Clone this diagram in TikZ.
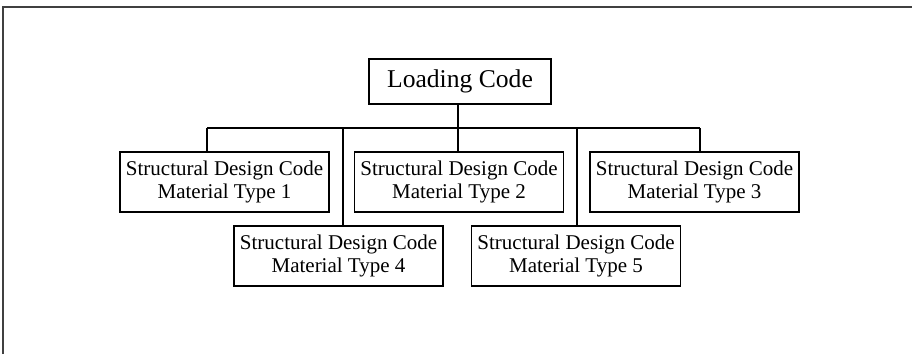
\documentclass[tikz,border=0pt]{standalone}
\usepackage{fontspec}
\setmainfont{Liberation Serif}
\begin{document}
\begin{tikzpicture}[x=1pt, y=-1pt, line width=1.3pt, main/.style = {draw, rectangle, minimum width=209pt, minimum height=60pt, inner sep=0pt, align=center, font=\fontsize{21}{23.5}\selectfont}]

		\useasboundingbox (0,0) rectangle (912,354);
		\draw[line width=2pt, black!75] (3,354) -- (3,7) -- (912,7);

		\node[draw, minimum width=182pt, minimum height=45pt, inner sep=0pt, font=\fontsize{25.6}{28}\selectfont] (0) at (460,81.5) {Loading Code};
		\node[main] (1) at (224.5,182) {Structural Design Code\\Material Type 1};
		\node[main] (2) at (459,182) {Structural Design Code\\Material Type 2};
		\node[main] (3) at (694.5,182) {Structural Design Code\\Material Type 3};
		\node[main] (4) at (338.5,256) {Structural Design Code\\Material Type 4};
		\node[main] (5) at (576,256) {Structural Design Code\\Material Type 5};

		\coordinate (b1) at (207,128);
		\coordinate (b4) at (343,128);
		\coordinate (b2) at (458,128);
		\coordinate (b5) at (577,128);
		\coordinate (b3) at (700,128);

		\draw (b1) -- (b3);
		\draw (b2 |- 0.south) -- (b2 |- 2.north);
		\draw (b1) -- (b1 |- 1.north);
		\draw (b3) -- (b3 |- 3.north);
		\draw (b4) -- (b4 |- 4.north);
		\draw (b5) -- (b5 |- 5.north);
	\end{tikzpicture}
\end{document}
